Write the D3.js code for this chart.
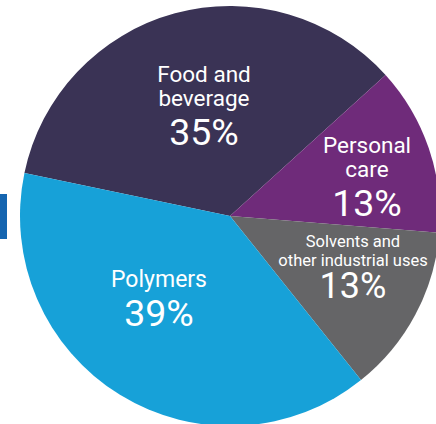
<!DOCTYPE html>
<html><head><meta charset="utf-8">
<script src="https://cdn.jsdelivr.net/npm/d3@7"></script>
<style>html,body{margin:0;padding:0;background:#fff;overflow:hidden}</style>
</head><body>
<svg id="c" width="436" height="424"></svg>
<script>
const categories = ["Food and beverage", "Personal care", "Solvents and other industrial uses", "Polymers"];
const values = [35, 13, 13, 39];
const labelLines = [["Food and", "beverage"], ["Personal", "care"], ["Solvents and", "other industrial uses"], ["Polymers"]];
const colors = ["#3a3355", "#6f2b7a", "#656567", "#17a1d8"];

const svg = d3.select("#c");
const cx = 230, cy = 216, R = 210;

// left accent bar
svg.append("rect").attr("x", 0).attr("y", 194).attr("width", 7).attr("height", 45).attr("fill", "#1565b0");

const startA = -78.2 * Math.PI / 180;
const pie = d3.pie().sort(null).value(d => d).startAngle(startA).endAngle(startA + 2 * Math.PI);
const arc = d3.arc().innerRadius(0).outerRadius(R);
const arcs = pie(values);

const g = svg.append("g").attr("transform", `translate(${cx},${cy})`);
g.selectAll("path").data(arcs).join("path")
  .attr("d", arc).attr("fill", (d, i) => colors[i]);

// label layout (absolute)
const layout = [
  {x: 204, lines: [82, 106], size: 22.5, pct: 145, psize: 37.5},
  {x: 367, lines: [153, 177], size: 22.5, pct: 216, psize: 37.5},
  {x: 353, lines: [247, 266], size: 16.5, pct: 298, psize: 36},
  {x: 159, lines: [287], size: 23, pct: 326, psize: 37.5}
];
const font = "Roboto, 'DejaVu Sans', sans-serif";
arcs.forEach((a, i) => {
  const L = layout[i];
  labelLines[i].forEach((t, j) => {
    svg.append("text").attr("x", L.x).attr("y", L.lines[j]).attr("text-anchor", "middle")
      .attr("fill", "#fff").attr("font-family", font)
      .attr("font-size", L.size).text(t);
  });
  svg.append("text").attr("x", L.x).attr("y", L.pct).attr("text-anchor", "middle")
    .attr("fill", "#fff").attr("font-family", font).attr("font-size", L.psize).text(a.data + "%");
});
</script>
</body></html>
